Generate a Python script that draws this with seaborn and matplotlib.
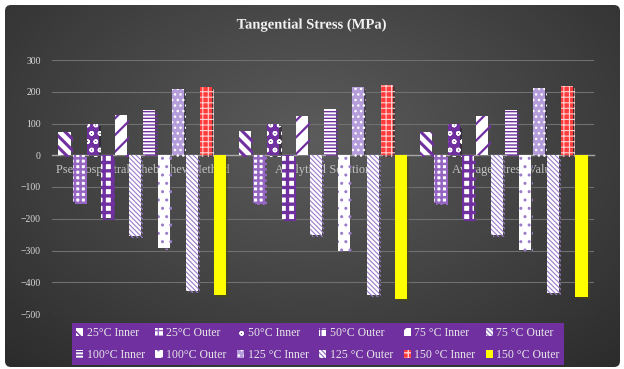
import matplotlib
matplotlib.use("Agg")
import matplotlib.pyplot as plt
import matplotlib.patheffects as pe
from matplotlib.patches import FancyBboxPatch
import numpy as np
import pandas as pd
import seaborn as sns

methods = ["Pseudospectral Chebyshev Method", "Analytical Solution", "Average Stress Value"]
series = [
    "25°C Inner", "25°C Outer", "50°C Inner", "50°C Outer",
    "75 °C Inner", "75 °C Outer", "100°C Inner", "100°C Outer",
    "125 °C Inner", "125 °C Outer", "150 °C Inner", "150 °C Outer",
]
inner_25 = [74, 75, 73]
outer_25 = [-147, -150, -150]
inner_50 = [98, 98, 97]
outer_50 = [-198, -200, -200]
inner_75 = [126, 123, 123]
outer_75 = [-255, -250, -250]
inner_100 = [142, 147, 144]
outer_100 = [-293, -300, -297]
inner_125 = [208, 214, 211]
outer_125 = [-428, -440, -435]
inner_150 = [215, 220, 217]
outer_150 = [-439, -452, -447]
yticks = [300, 200, 100, 0, -100, -200, -300, -400, -500]

values = [inner_25, outer_25, inner_50, outer_50, inner_75, outer_75,
          inner_100, outer_100, inner_125, outer_125, inner_150, outer_150]
rows = []
for name, vals in zip(series, values):
    for m, v in zip(methods, vals):
        rows.append({"method": m, "series": name, "stress": v})
df = pd.DataFrame(rows)

# (face, hatch, hatch colour, hatch width) per series, mimicking Excel pattern fills
purple = "#7030A0"
lilac = "#9b7cc9"
styles = [
    ("white", "\\\\\\", purple, 2.2),
    ("white", "+++", "#9466c2", 1.8),
    (purple, "oo", "white", 1.0),
    ("white", "++", purple, 2.4),
    ("white", "//", purple, 1.6),
    ("white", "\\\\\\\\\\\\\\", lilac, 0.8),
    ("white", "-----", purple, 1.0),
    ("white", "..", lilac, 1.0),
    ("#b59ddb", "...", "white", 1.0),
    ("white", "\\\\\\\\\\\\\\", lilac, 0.8),
    ("#ff3b3b", "+++", "#ffd0d0", 0.8),
    ("#ffff00", "", "#ffff00", 1.0),
]

W, H = 624, 369
fig = plt.figure(figsize=(W / 100, H / 100), dpi=100)
fig.patch.set_facecolor("white")

# gradient background panel
bg = fig.add_axes([0, 0, 1, 1], zorder=-10)
bg.set_xlim(0, W)
bg.set_ylim(0, H)
bg.axis("off")
yy, xx = np.mgrid[0:H, 0:W]
r = np.sqrt(((xx - 0.5 * W) / (0.65 * W)) ** 2 + ((yy - 0.62 * H) / (0.75 * H)) ** 2)
shade = np.clip(0.36 - 0.17 * r, 0.17, 0.36)
img = np.dstack([shade, shade, shade])
im = bg.imshow(img, extent=(0, W, 0, H), origin="lower", aspect="auto")
panel = FancyBboxPatch((5, 2), W - 9, H - 7, boxstyle="round,pad=0,rounding_size=6",
                       transform=bg.transData, facecolor="none", edgecolor="none")
bg.add_patch(panel)
im.set_clip_path(panel)

ax = fig.add_axes([52 / W, 1 - 314 / H, (594 - 52) / W, (314 - 60) / H])
ax.set_facecolor("none")
sns.barplot(data=df, x="method", y="stress", hue="series", order=methods,
            hue_order=series, width=0.94, gap=0.15, errorbar=None,
            legend=False, ax=ax)

shadow = [pe.SimplePatchShadow(offset=(1.5, -1.5), alpha=0.45), pe.Normal()]
for cont, (face, hatch, hc, hw) in zip(ax.containers, styles):
    for bar in cont:
        bar.set_facecolor(face)
        bar.set_edgecolor(hc)
        bar.set_hatch(hatch)
        if hasattr(bar, "set_hatch_linewidth"):
            bar.set_hatch_linewidth(hw)
        bar.set_linewidth(0)
        bar.set_path_effects(shadow)

ax.set_xlim(-0.5, 2.5)
ax.set_ylim(-500, 300)
ax.set_yticks(yticks)
ax.set_axisbelow(True)
ax.grid(axis="y", color="#707070", linewidth=0.8)
ax.grid(axis="x", visible=False)
for s in ["top", "right", "left"]:
    ax.spines[s].set_visible(False)
ax.spines["bottom"].set_position(("data", 0))
ax.spines["bottom"].set_color("#a6a6a6")
ax.spines["bottom"].set_linewidth(1.0)
ax.spines["bottom"].set_zorder(0.6)
ax.tick_params(axis="both", length=0)
ax.tick_params(axis="y", pad=8, labelsize=7, labelcolor="#d9d9d9")
ax.tick_params(axis="x", pad=6, labelsize=8.8, labelcolor="#c4c4c4")
for lab in ax.get_xticklabels() + ax.get_yticklabels():
    lab.set_fontfamily("Liberation Serif")
ax.set_xlabel("")
ax.set_ylabel("")

fig.text(0.5, 1 - 25 / H, "Tangential Stress (MPa)", ha="center", va="center",
         fontsize=10.5, fontweight="bold", color="#f2f2f2",
         family="Liberation Serif",
         path_effects=[pe.withSimplePatchShadow(offset=(1, -1), alpha=0.6)])

# legend is filled column by column, so interleave the two rows
order = [0, 6, 1, 7, 2, 8, 3, 9, 4, 10, 5, 11]
handles = [ax.containers[i] for i in order]
labels = [series[i] for i in order]
leg = ax.legend(handles, labels, ncol=6, loc="center",
                bbox_to_anchor=(72 / W, 1 - 365 / H, (564 - 72) / W, 42 / H),
                bbox_transform=fig.transFigure, mode="expand",
                frameon=True, fancybox=False, facecolor=purple, edgecolor="none",
                framealpha=1, borderaxespad=0, borderpad=0.35,
                handlelength=0.6, handleheight=0.6, handletextpad=0.3,
                columnspacing=0.5, labelspacing=0.85,
                prop={"family": "Liberation Serif", "size": 8.5})
for t in leg.get_texts():
    t.set_color("#e6e6e6")
for h in leg.legend_handles:
    h.set_path_effects([])

fig.savefig("out.png", dpi=100)
